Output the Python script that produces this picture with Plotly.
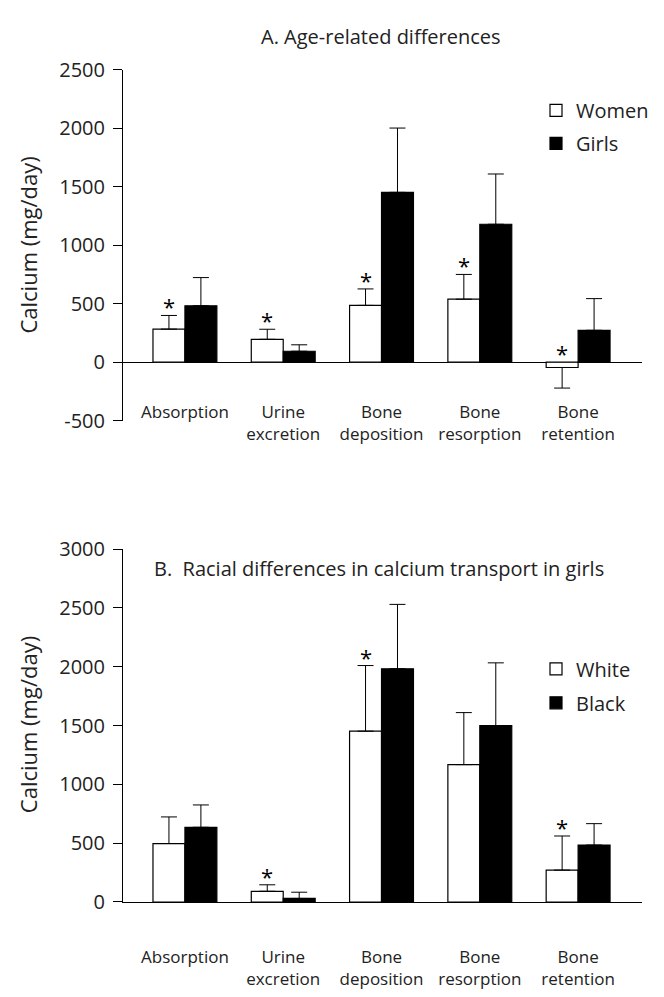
import plotly.graph_objects as go

# ---------------- data ----------------
categories = ["Absorption", "Urine<br>excretion", "Bone<br>deposition", "Bone<br>resorption", "Bone<br>retention"]

# Panel A: age-related differences
women_mean = [283, 196, 486, 539, -45]
women_err = [117, 86, 141, 212, 176]
women_err_dir = [1, 1, 1, 1, -1]          # +1 error drawn upward, -1 downward
women_star = [True, True, True, True, True]
girls_mean = [483, 94, 1453, 1180, 273]
girls_err = [241, 55, 550, 430, 271]

# Panel B: racial differences in girls
white_mean = [497, 91, 1452, 1168, 271]
white_err = [226, 55, 558, 442, 290]
white_star = [False, True, True, False, True]
black_mean = [635, 30, 1983, 1500, 484]
black_err = [190, 53, 547, 533, 182]

ticks_A = [-500, 0, 500, 1000, 1500, 2000, 2500]
ticklabels_A = ["-500", "0", "500", "1000", "1500", "2000", "2500"]
ticks_B = [0, 500, 1000, 1500, 2000, 2500, 3000]
ticklabels_B = ["0", "500", "1000", "1500", "2000", "2500", "3000"]

# ---------------- layout helpers ----------------
W, H = 664, 997
FONT = "Open Sans"

def px_x(p):
    return p / W

def px_y(p):
    return 1 - p / H

x_dom = [px_x(123), px_x(642)]
yA_dom = [px_y(418), px_y(57.5)]
yB_dom = [px_y(912.7), px_y(550)]

fig = go.Figure()

def err_kw(vals, dirs=None):
    if dirs is None:
        dirs = [1] * len(vals)
    up = [v if d > 0 else 0 for v, d in zip(vals, dirs)]
    dn = [v if d < 0 else 0 for v, d in zip(vals, dirs)]
    return dict(type="data", symmetric=False, array=up, arrayminus=dn,
                color="black", thickness=1, width=8)

bar_line = dict(color="black", width=1.2)

fig.add_trace(go.Bar(x=categories, y=women_mean, name="Women",
                     marker=dict(color="white", line=bar_line),
                     error_y=err_kw(women_err, women_err_dir),
                     xaxis="x", yaxis="y", legend="legend", legendgroup="w"))
fig.add_trace(go.Bar(x=categories, y=girls_mean, name="Girls",
                     marker=dict(color="black", line=bar_line),
                     error_y=err_kw(girls_err),
                     xaxis="x", yaxis="y", legend="legend", legendgroup="g"))
fig.add_trace(go.Bar(x=categories, y=white_mean, name="White",
                     marker=dict(color="white", line=bar_line),
                     error_y=err_kw(white_err),
                     xaxis="x2", yaxis="y2", legend="legend2", legendgroup="wh"))
fig.add_trace(go.Bar(x=categories, y=black_mean, name="Black",
                     marker=dict(color="black", line=bar_line),
                     error_y=err_kw(black_err),
                     xaxis="x2", yaxis="y2", legend="legend2", legendgroup="bl"))

annotations = []
star_font = dict(family=FONT, size=22, color="black")
# significance asterisks above the first bar of each pair
for i, c in enumerate(categories):
    if women_star[i]:
        top = women_mean[i] + women_err[i] if women_err_dir[i] > 0 else 0
        annotations.append(dict(x=c, y=top, xref="x", yref="y", text="*",
                                showarrow=False, xshift=-16, yshift=9,
                                xanchor="center", yanchor="middle", font=star_font))
    if white_star[i]:
        annotations.append(dict(x=c, y=white_mean[i] + white_err[i], xref="x2", yref="y2",
                                text="*", showarrow=False, xshift=-16, yshift=9,
                                xanchor="center", yanchor="middle", font=star_font))

annotations.append(dict(text="A. Age-related differences", x=px_x(381), y=px_y(23),
                        xref="paper", yref="paper", showarrow=False,
                        xanchor="center", yanchor="middle",
                        font=dict(family=FONT, size=20, color="#222")))
annotations.append(dict(text="B.  Racial differences in calcium transport in girls",
                        x=px_x(379), y=px_y(570), xref="paper", yref="paper", showarrow=False,
                        xanchor="center", yanchor="middle",
                        font=dict(family=FONT, size=20, color="#222")))
for yc in (238, 731):
    annotations.append(dict(text="Calcium (mg/day)", x=px_x(28), y=px_y(yc),
                            xref="paper", yref="paper", showarrow=False, textangle=-90,
                            xanchor="center", yanchor="middle",
                            font=dict(family=FONT, size=22, color="#222")))

yaxis_common = dict(showline=True, linecolor="black", linewidth=1, ticks="outside",
                    ticklen=9, tickcolor="black", showgrid=False, tickmode="array",
                    tickfont=dict(family=FONT, size=20, color="#222"), ticklabelstandoff=4)

fig.update_layout(
    width=W, height=H, margin=dict(l=0, r=0, t=0, b=0),
    paper_bgcolor="white", plot_bgcolor="white",
    barmode="group", bargap=0.35, bargroupgap=0,
    font=dict(family=FONT, color="#222"),
    xaxis=dict(domain=x_dom, anchor="free", position=px_y(397), range=[-0.63, 4.65],
               showline=False, ticks="", showgrid=False,
               tickfont=dict(family=FONT, size=17, color="#222")),
    yaxis=dict(domain=yA_dom, range=[-500, 2500], tickvals=ticks_A, ticktext=ticklabels_A,
               zeroline=True, zerolinecolor="black", zerolinewidth=1, anchor="x",
               **yaxis_common),
    xaxis2=dict(domain=x_dom, anchor="y2", range=[-0.63, 4.65],
                showline=True, linecolor="black", linewidth=1, ticks="", showgrid=False,
                ticklabelstandoff=40,
                tickfont=dict(family=FONT, size=17, color="#222")),
    yaxis2=dict(domain=yB_dom, range=[0, 3000], tickvals=ticks_B, ticktext=ticklabels_B,
                zeroline=False, anchor="x2", **yaxis_common),
    legend=dict(x=px_x(536), y=px_y(79), xanchor="left", yanchor="top",
                font=dict(family=FONT, size=20, color="#222"), tracegroupgap=4,
                bgcolor="rgba(0,0,0,0)"),
    legend2=dict(x=px_x(536), y=px_y(653), xanchor="left", yanchor="top",
                 font=dict(family=FONT, size=20, color="#222"), tracegroupgap=5,
                 bgcolor="rgba(0,0,0,0)"),
    annotations=annotations,
    showlegend=True,
)

fig.write_html("out.html", config={"displayModeBar": False},
               post_script="document.body.style.margin='0px';document.body.style.overflow='hidden';")
